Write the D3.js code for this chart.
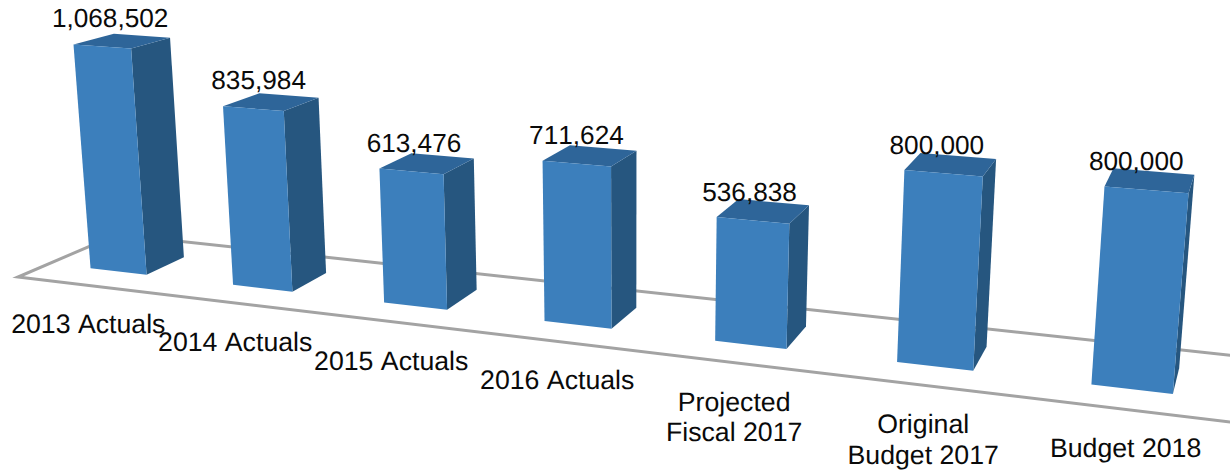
<!DOCTYPE html>
<html>
<head>
<meta charset="utf-8">
<script src="https://cdn.jsdelivr.net/npm/d3@7/dist/d3.min.js"></script>
<style>
  html, body { margin: 0; padding: 0; background: #fff; }
  svg { display: block; }
  text {
    font-family: "Liberation Sans", Arial, sans-serif;
    font-size: 26.2px;
    font-kerning: none;
    text-rendering: geometricPrecision;
    fill: #0a0a0a;
  }
  text.category { font-size: 26.7px; }
</style>
</head>
<body>
<svg id="chart" width="1230" height="471"></svg>
<script>
// Fund totals by period
const categories = [
  "2013 Actuals", "2014 Actuals", "2015 Actuals", "2016 Actuals",
  "Projected\nFiscal 2017", "Original\nBudget 2017", "Budget 2018"
];
const values = [1068502, 835984, 613476, 711624, 536838, 800000, 800000];

// Camera: the floor's near-left corner plus one vanishing point per world axis.
const origin = [18, 277];
const vanishX = [-4800, -299];
const vanishY = [630, 7350];
const vanishZ = [1340, -290];

// World positions, then the homogeneous weight each world unit contributes.
const xBand = d3.scaleBand().domain(categories).range([0, categories.length]).paddingInner(0.6).paddingOuter(0.3);
const xWeight = d3.scaleLinear().domain([0, categories.length]).range([0, -0.2013]);
const yWeight = d3.scaleLinear().domain([0, 800000]).range([0, -0.0233]);
const zWeight = d3.scaleLinear().domain([0, 1]).range([0, 0.081]);

const barDepth = [0.3, 0.7];

function project(wx, value, depth) {
  const a = xWeight(wx), b = yWeight(value), c = zWeight(depth);
  const w = 1 + a + b + c;
  return [
    (origin[0] + a * vanishX[0] + b * vanishY[0] + c * vanishZ[0]) / w,
    (origin[1] + a * vanishX[1] + b * vanishY[1] + c * vanishZ[1]) / w
  ];
}

const svg = d3.select("#chart");
const polygon = d3.line().curve(d3.curveLinearClosed);

// Floor outline
const floorEnd = categories.length;
svg.append("path")
  .attr("d", polygon([
    project(0, 0, 0), project(floorEnd, 0, 0),
    project(floorEnd, 0, 1), project(0, 0, 1)
  ]))
  .attr("fill", "none")
  .attr("stroke", "#a3a3a3")
  .attr("stroke-width", 3)
  .attr("stroke-linejoin", "miter");

// Bars: each is the three visible faces of a box
const bars = svg.append("g").selectAll("g")
  .data(categories.map((c, i) => ({ category: c, value: values[i] })))
  .join("g");

const leftOf = d => xBand(d.category);
const rightOf = d => xBand(d.category) + xBand.bandwidth();
const centerOf = d => xBand(d.category) + xBand.bandwidth() / 2;
const [zFront, zBack] = barDepth;

bars.append("path")
  .attr("fill", "#26567f")
  .attr("d", d => polygon([
    project(rightOf(d), 0, zFront), project(rightOf(d), 0, zBack),
    project(rightOf(d), d.value, zBack), project(rightOf(d), d.value, zFront)
  ]));

bars.append("path")
  .attr("fill", "#2e6599")
  .attr("d", d => polygon([
    project(leftOf(d), d.value, zFront), project(rightOf(d), d.value, zFront),
    project(rightOf(d), d.value, zBack), project(leftOf(d), d.value, zBack)
  ]));

bars.append("path")
  .attr("fill", "#3c7fbc")
  .attr("d", d => polygon([
    project(leftOf(d), 0, zFront), project(rightOf(d), 0, zFront),
    project(rightOf(d), d.value, zFront), project(leftOf(d), d.value, zFront)
  ]));

// Value labels sit above the front top edge, drawn slightly toward the chart centre
const labelX = d3.scaleLinear().domain([103, 1147]).range([111, 1137]);
const formatValue = d3.format(",");

bars.append("text")
  .attr("text-anchor", "middle")
  .attr("x", d => labelX(project(centerOf(d), d.value, zFront)[0]))
  .attr("y", d => project(centerOf(d), d.value, zFront)[1] - 19.5)
  .text(d => formatValue(d.value));

// Category labels follow the floor's front edge
const lineGap = 30.5, labelDrop = 48;
bars.append("text")
  .attr("class", "category")
  .attr("text-anchor", "middle")
  .attr("transform", d => {
    const [x, y] = project(centerOf(d), 0, 0);
    return `translate(${x},${y + labelDrop})`;
  })
  .selectAll("tspan")
  .data(d => d.category.split("\n"))
  .join("tspan")
  .attr("x", 0)
  .attr("y", (_, i) => i * lineGap)
  .text(d => d);
</script>
</body>
</html>
